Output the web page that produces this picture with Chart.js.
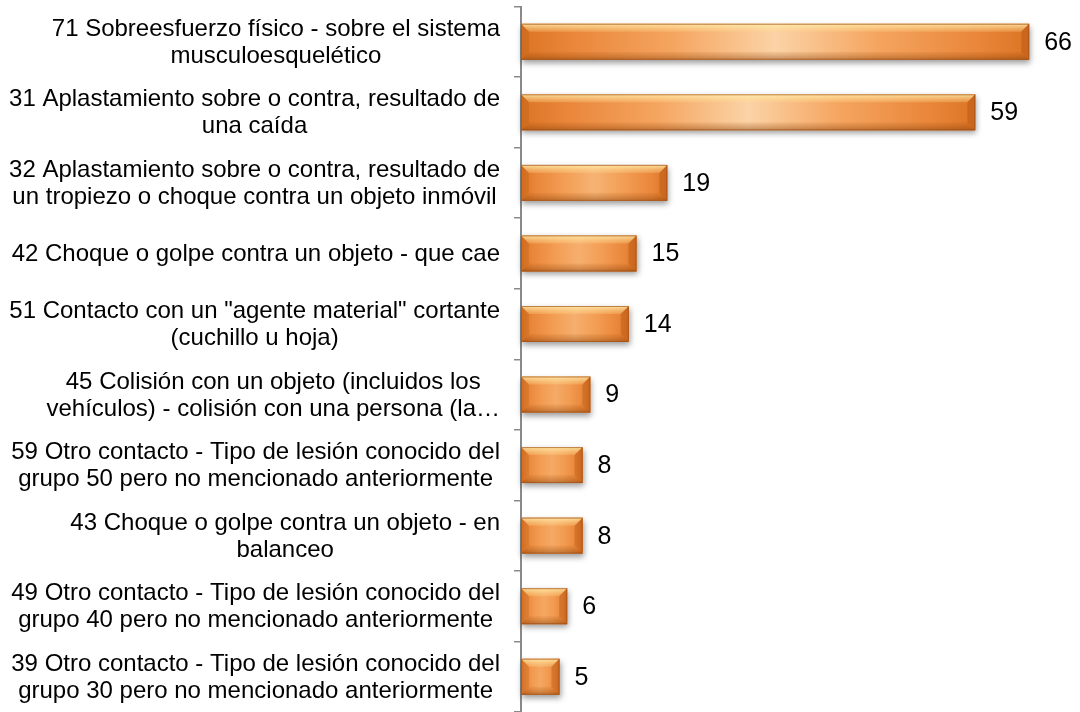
<!DOCTYPE html>
<html>
<head>
<meta charset="utf-8">
<script src="https://cdn.jsdelivr.net/npm/chart.js@4/dist/chart.umd.min.js"></script>
<style>
html,body{margin:0;padding:0;background:#fff;}
#wrap{width:1080px;height:712px;position:relative;}
</style>
</head>
<body>
<div id="wrap"><canvas id="c" width="1080" height="712"></canvas></div>
<script>
const categories = [
  ["71 Sobreesfuerzo físico - sobre el sistema", "musculoesquelético"],
  ["31 Aplastamiento sobre o contra, resultado de", "una caída"],
  ["32 Aplastamiento sobre o contra, resultado de", "un tropiezo o choque contra un objeto inmóvil"],
  ["42 Choque o golpe contra un objeto - que cae"],
  ["51 Contacto con un \"agente material\" cortante", "(cuchillo u hoja)"],
  ["45 Colisión con un objeto (incluidos los", "vehículos) - colisión con una persona (la…"],
  ["59 Otro contacto - Tipo de lesión conocido del", "grupo 50 pero no mencionado anteriormente"],
  ["43 Choque o golpe contra un objeto - en", "balanceo"],
  ["49 Otro contacto - Tipo de lesión conocido del", "grupo 40 pero no mencionado anteriormente"],
  ["39 Otro contacto - Tipo de lesión conocido del", "grupo 30 pero no mencionado anteriormente"]
];
const values = [66, 59, 19, 15, 14, 9, 8, 8, 6, 5];

const LABEL_FONT = '24px "Liberation Sans", Arial, sans-serif';
const VALUE_FONT = '25px "Liberation Sans", Arial, sans-serif';

function lerpColor(a, b, t) {
  const pa = [parseInt(a.slice(1,3),16), parseInt(a.slice(3,5),16), parseInt(a.slice(5,7),16)];
  const pb = [parseInt(b.slice(1,3),16), parseInt(b.slice(3,5),16), parseInt(b.slice(5,7),16)];
  const r = pa.map((v,i)=>Math.round(v + (pb[i]-v)*t));
  return `rgb(${r[0]},${r[1]},${r[2]})`;
}

function barFill(context) {
  const chart = context.chart;
  if (!chart.chartArea || !chart.scales.x) return '#f29a4e';
  const xs = chart.scales.x;
  const x0 = xs.getPixelForValue(0);
  const x1 = xs.getPixelForValue(context.raw);
  const w = x1 - x0;
  const t = Math.min(1, w / 420);
  const center = lerpColor('#f4a25a', '#fbd3a6', t);
  const mid = lerpColor('#f29a4f', '#f5a560', t);
  const g = chart.ctx.createLinearGradient(x0, 0, x1, 0);
  g.addColorStop(0, '#dc7424');
  g.addColorStop(0.1, '#e9863a');
  g.addColorStop(0.3, mid);
  g.addColorStop(0.5, center);
  g.addColorStop(0.7, mid);
  g.addColorStop(0.9, '#e9863a');
  g.addColorStop(1, '#dc7424');
  return g;
}

const bevelPlugin = {
  id: 'bevel',
  beforeDatasetsDraw(chart) {
    const ctx = chart.ctx;
    const meta = chart.getDatasetMeta(0);
    meta.data.forEach(bar => {
      const p = bar.getProps(['x','y','base','height'], true);
      const L = Math.min(p.base, p.x), R = Math.max(p.base, p.x);
      const T = p.y - p.height/2;
      ctx.save();
      ctx.shadowColor = 'rgba(0,0,0,0.4)';
      ctx.shadowBlur = 6;
      ctx.shadowOffsetX = 1;
      ctx.shadowOffsetY = 3;
      ctx.fillStyle = '#e08030';
      ctx.fillRect(L, T, R - L, p.height);
      ctx.restore();
    });
  },
  afterDatasetsDraw(chart) {
    const ctx = chart.ctx;
    const meta = chart.getDatasetMeta(0);
    meta.data.forEach(bar => {
      const p = bar.getProps(['x','y','base','height'], true);
      const L = Math.min(p.base, p.x), R = Math.max(p.base, p.x);
      const T = p.y - p.height/2, B = p.y + p.height/2;
      const b = Math.min(8, (R - L) / 3, p.height / 4);
      ctx.save();
      // top bevel
      let g = ctx.createLinearGradient(0, T, 0, T + b);
      g.addColorStop(0, 'rgba(255,240,175,0.85)');
      g.addColorStop(1, 'rgba(255,215,140,0.25)');
      ctx.fillStyle = g;
      ctx.beginPath();
      ctx.moveTo(L, T); ctx.lineTo(R, T); ctx.lineTo(R - b, T + b); ctx.lineTo(L + b, T + b); ctx.closePath();
      ctx.fill();
      // bottom bevel
      g = ctx.createLinearGradient(0, B - b, 0, B);
      g.addColorStop(0, 'rgba(160,75,10,0.08)');
      g.addColorStop(1, 'rgba(120,55,5,0.45)');
      ctx.fillStyle = g;
      ctx.beginPath();
      ctx.moveTo(L, B); ctx.lineTo(R, B); ctx.lineTo(R - b, B - b); ctx.lineTo(L + b, B - b); ctx.closePath();
      ctx.fill();
      // left bevel
      ctx.fillStyle = 'rgba(175,80,10,0.22)';
      ctx.beginPath();
      ctx.moveTo(L, T); ctx.lineTo(L + b, T + b); ctx.lineTo(L + b, B - b); ctx.lineTo(L, B); ctx.closePath();
      ctx.fill();
      // right bevel
      ctx.fillStyle = 'rgba(165,72,8,0.32)';
      ctx.beginPath();
      ctx.moveTo(R, T); ctx.lineTo(R - b, T + b); ctx.lineTo(R - b, B - b); ctx.lineTo(R, B); ctx.closePath();
      ctx.fill();
      // outline
      ctx.strokeStyle = 'rgba(160,80,25,0.65)';
      ctx.lineWidth = 1;
      ctx.strokeRect(L + 0.5, T + 0.5, R - L - 1, p.height - 1);
      ctx.restore();
    });
  },
  afterDraw(chart) {
    const ctx = chart.ctx;
    const ys = chart.scales.y;
    const area = chart.chartArea;
    ctx.save();
    ctx.fillStyle = '#000';
    ctx.textBaseline = 'middle';
    // category labels: lines centred on each other, block right-aligned
    ctx.font = LABEL_FONT;
    const rightEdge = area.left - 21;
    const lineH = 27;
    categories.forEach((lines, i) => {
      const cy = ys.getPixelForValue(i);
      const widest = Math.max(...lines.map(l => ctx.measureText(l).width));
      const cx = rightEdge - widest / 2;
      ctx.textAlign = 'center';
      lines.forEach((l, j) => {
        const y = cy + (j - (lines.length - 1) / 2) * lineH + 1;
        ctx.fillText(l, cx, y);
      });
    });
    // value labels
    ctx.font = VALUE_FONT;
    const meta = chart.getDatasetMeta(0);
    ctx.textAlign = 'left';
    meta.data.forEach((bar, i) => {
      const p = bar.getProps(['x','y'], true);
      ctx.fillText(String(values[i]), p.x + 15, p.y + 1);
    });
    ctx.restore();
  }
};

new Chart(document.getElementById('c'), {
  type: 'bar',
  data: {
    labels: categories,
    datasets: [{
      data: values,
      backgroundColor: barFill,
      borderWidth: 0,
      categoryPercentage: 1,
      barPercentage: 0.51
    }]
  },
  options: {
    indexAxis: 'y',
    responsive: false,
    animation: false,
    layout: { padding: { top: 6.5, bottom: -4.5, left: 0, right: 20 } },
    plugins: { legend: { display: false }, tooltip: { enabled: false } },
    scales: {
      x: { display: false, min: 0, max: 70 },
      y: {
        position: 'left',
        ticks: { display: false },
        grid: { offset: true, drawOnChartArea: false, drawTicks: true, tickLength: 7, color: '#8a8a8a', lineWidth: 1.5 },
        border: { display: true, color: '#8a8a8a', width: 2 },
        afterFit(scale) { scale.width = 521; }
      }
    }
  },
  plugins: [bevelPlugin]
});
</script>
</body>
</html>
